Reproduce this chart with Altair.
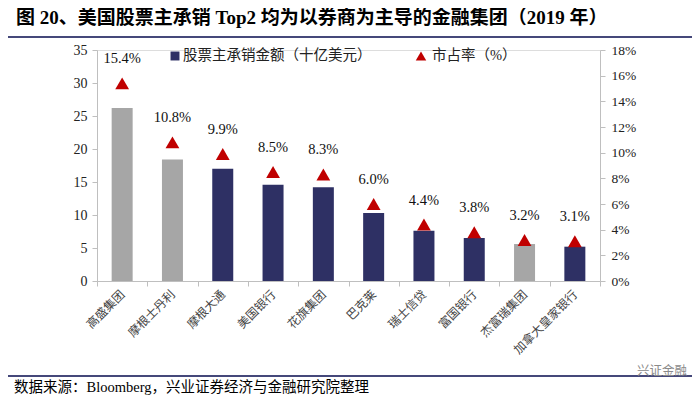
import altair as alt
import pandas as pd

firms = ["高盛集团", "摩根士丹利", "摩根大通", "美国银行", "花旗集团",
         "巴克莱", "瑞士信贷", "富国银行", "杰富瑞集团", "加拿大皇家银行"]
amount = [26.2, 18.4, 17.0, 14.6, 14.2, 10.3, 7.6, 6.5, 5.6, 5.2]
share = [15.4, 10.8, 9.9, 8.5, 8.3, 6.0, 4.4, 3.8, 3.2, 3.1]
kind = ["投行", "投行", "银行", "银行", "银行", "银行", "银行", "银行", "投行", "银行"]

title_text = "图 20、美国股票主承销 Top2 均为以券商为主导的金融集团（2019 年）"
source_text = "数据来源：Bloomberg，兴业证券经济与金融研究院整理"
legend_bar = "股票主承销金额（十亿美元）"
legend_tri = "市占率（%）"
watermark = "兴证金融"

df = pd.DataFrame({"firm": firms, "amount": amount, "share": share, "kind": kind})
one = pd.DataFrame({"a": [0]})

SERIF = "Liberation Serif, Noto Sans CJK SC"
CJK = "Liberation Serif, Noto Sans CJK SC"
NAVY = "#2E3064"
GRAY = "#A6A6A6"
RED = "#C00000"
AXC = "#BFBFBF"
LINE = "#45487A"

x_enc = alt.X("firm:N", sort=firms, title=None,
              scale=alt.Scale(paddingInner=0, paddingOuter=0),
              axis=alt.Axis(labelAngle=-45, labelAlign="right", labelBaseline="middle",
                            labelFont=CJK, labelFontSize=12, labelColor="#444",
                            labelPadding=6, tickBand="extent", tickSize=5,
                            tickColor=AXC, domainColor=AXC, labelLimit=200))

bars = alt.Chart(df).mark_bar(size=21).encode(
    x=x_enc,
    y=alt.Y("amount:Q", title=None,
            scale=alt.Scale(domain=[0, 35], nice=False),
            axis=alt.Axis(values=list(range(0, 36, 5)), grid=False, orient="left",
                          labelFont=SERIF, labelFontSize=14, labelColor="#222",
                          labelOverlap=False, labelFlush=False,
                          tickColor=AXC, domainColor=AXC, tickSize=5, labelPadding=5)),
    color=alt.Color("kind:N", scale=alt.Scale(domain=["投行", "银行"], range=[GRAY, NAVY]),
                    legend=None),
)

right_axis = alt.Axis(values=list(range(0, 19, 2)), grid=False, orient="right",
                      labelExpr="datum.value + '%'", labelOverlap=False, labelFlush=False,
                      labelFont=SERIF, labelFontSize=13.5, labelColor="#222",
                      tickColor=AXC, domainColor=AXC, tickSize=5, labelPadding=6)
y2 = alt.Y("share:Q", title=None, scale=alt.Scale(domain=[0, 18], nice=False), axis=right_axis)

tri = alt.Chart(df).mark_point(shape="triangle-up", filled=True, size=190,
                               color=RED, opacity=1).encode(x=alt.X("firm:N", sort=firms), y=y2)
lbl = alt.Chart(df).transform_calculate(
    lab="format(datum.share, '.1f') + '%'"
).mark_text(dy=-24, font=SERIF, fontSize=14.5, color="#111").encode(
    x=alt.X("firm:N", sort=firms), y=y2, text="lab:N")

main = alt.layer(bars, alt.layer(tri, lbl)).resolve_scale(y="independent")

title = alt.Chart(one).mark_text(align="left", baseline="middle", font=SERIF,
                                 fontSize=19, fontWeight="bold", color="#000").encode(
    x=alt.value(-81), y=alt.value(-32), text=alt.value(title_text))
rule_top = alt.Chart(one).mark_rect(color=LINE).encode(
    x=alt.value(-89), x2=alt.value(595), y=alt.value(-14), y2=alt.value(-12))
rule_bot = alt.Chart(one).mark_rect(color=LINE).encode(
    x=alt.value(-89), x2=alt.value(595), y=alt.value(325), y2=alt.value(327))
source = alt.Chart(one).mark_text(align="left", baseline="middle", font=CJK,
                                  fontSize=14.5, color="#000").encode(
    x=alt.value(-83), y=alt.value(338), text=alt.value(source_text))
wm = alt.Chart(one).mark_text(align="left", baseline="middle", font=CJK,
                              fontSize=12.5, color="#8A8A8A").encode(
    x=alt.value(540), y=alt.value(321), text=alt.value(watermark))
leg_sq = alt.Chart(one).mark_point(shape="square", filled=True, size=80, color=NAVY,
                                   opacity=1).encode(x=alt.value(78), y=alt.value(6))
leg_sq_t = alt.Chart(one).mark_text(align="left", baseline="middle", font=CJK,
                                    fontSize=14.5, color="#222").encode(
    x=alt.value(86), y=alt.value(6), text=alt.value(legend_bar))
leg_tr = alt.Chart(one).mark_point(shape="triangle-up", filled=True, size=110, color=RED,
                                   opacity=1).encode(x=alt.value(324), y=alt.value(6))
leg_tr_t = alt.Chart(one).mark_text(align="left", baseline="middle", font=CJK,
                                    fontSize=14.5, color="#222").encode(
    x=alt.value(335), y=alt.value(6), text=alt.value(legend_tri))

chart = alt.layer(
    main, rule_top, rule_bot, title, source, wm, leg_sq, leg_sq_t, leg_tr, leg_tr_t
).properties(
    width=503, height=231,
    autosize=alt.AutoSizeParams(type="none"),
    padding={"left": 89, "top": 42, "right": 92, "bottom": 114},
).configure_view(stroke=None).configure(background="white")

chart.save("out.html", embed_options={"renderer": "svg", "actions": False})
